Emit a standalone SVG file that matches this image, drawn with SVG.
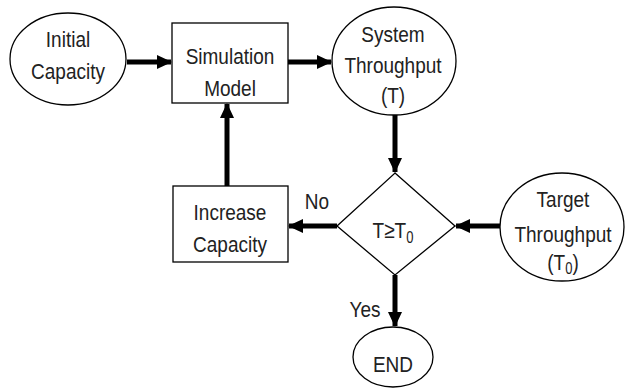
<svg xmlns="http://www.w3.org/2000/svg" width="627" height="391" viewBox="0 0 627 391">
<style>
.s{fill:#fff;stroke:#000;stroke-width:1.3}
.t{font-family:"Liberation Sans",Arial,sans-serif;font-size:19px;fill:#222;text-anchor:middle}
.c{stroke:#000;stroke-width:5;fill:none}
</style>
<defs>
<marker id="ah" markerUnits="userSpaceOnUse" markerWidth="16" markerHeight="16" viewBox="0 0 16 16" refX="14" refY="8" orient="auto">
<path d="M0,1 L15,8 L0,15 Z" fill="#000"/>
</marker>
</defs>
<rect width="627" height="391" fill="#fff"/>
<g id="connectors">
<line class="c" x1="127" y1="62" x2="171" y2="62" marker-end="url(#ah)"/>
<line class="c" x1="288" y1="62" x2="331" y2="62" marker-end="url(#ah)"/>
<line class="c" x1="395" y1="115" x2="395" y2="172" marker-end="url(#ah)"/>
<line class="c" x1="227" y1="186" x2="227" y2="104" marker-end="url(#ah)"/>
<line class="c" x1="337" y1="226" x2="289" y2="226" marker-end="url(#ah)"/>
<line class="c" x1="500" y1="226" x2="456" y2="226" marker-end="url(#ah)"/>
<line class="c" x1="395" y1="275" x2="395" y2="326" marker-end="url(#ah)"/>
<text class="t" transform="translate(317,209) scale(1,1.2)">No</text>
<text class="t" transform="translate(365,317) scale(1,1.2)">Yes</text>
</g>
<g id="initial">
<ellipse class="s" cx="68" cy="59" rx="58" ry="46"/>
<text class="t" transform="translate(68,47) scale(1,1.2)">Initial</text>
<text class="t" transform="translate(68,79) scale(1,1.2)">Capacity</text>
</g>
<g id="sim">
<rect class="s" x="172" y="23" width="116" height="80"/>
<text class="t" transform="translate(230,64) scale(1,1.2)">Simulation</text>
<text class="t" transform="translate(230,96) scale(1,1.2)">Model</text>
</g>
<g id="system">
<ellipse class="s" cx="394" cy="61" rx="62" ry="54"/>
<text class="t" transform="translate(393,42) scale(1,1.2)">System</text>
<text class="t" transform="translate(393,73) scale(1,1.2)">Throughput</text>
<text class="t" transform="translate(393,103) scale(1,1.2)">(T)</text>
</g>
<g id="increase">
<rect class="s" x="173" y="186" width="115" height="76"/>
<text class="t" transform="translate(230,220) scale(1,1.2)">Increase</text>
<text class="t" transform="translate(230,252) scale(1,1.2)">Capacity</text>
</g>
<g id="decision">
<polygon class="s" points="395,173 455,226 395,275 337,226"/>
<text class="t" transform="translate(393,238) scale(1,1.2)">T≥T<tspan font-size="13" dy="4">0</tspan></text>
</g>
<g id="target">
<ellipse class="s" cx="562" cy="227" rx="62" ry="54"/>
<text class="t" transform="translate(563,207) scale(1,1.2)">Target</text>
<text class="t" transform="translate(563,242) scale(1,1.2)">Throughput</text>
<text class="t" transform="translate(563,270) scale(1,1.2)">(T<tspan font-size="13" dy="3">0</tspan><tspan dy="-3">)</tspan></text>
</g>
<g id="end">
<ellipse class="s" cx="393" cy="357" rx="40" ry="30"/>
<text class="t" transform="translate(393,372) scale(1,1.2)">END</text>
</g>
</svg>
